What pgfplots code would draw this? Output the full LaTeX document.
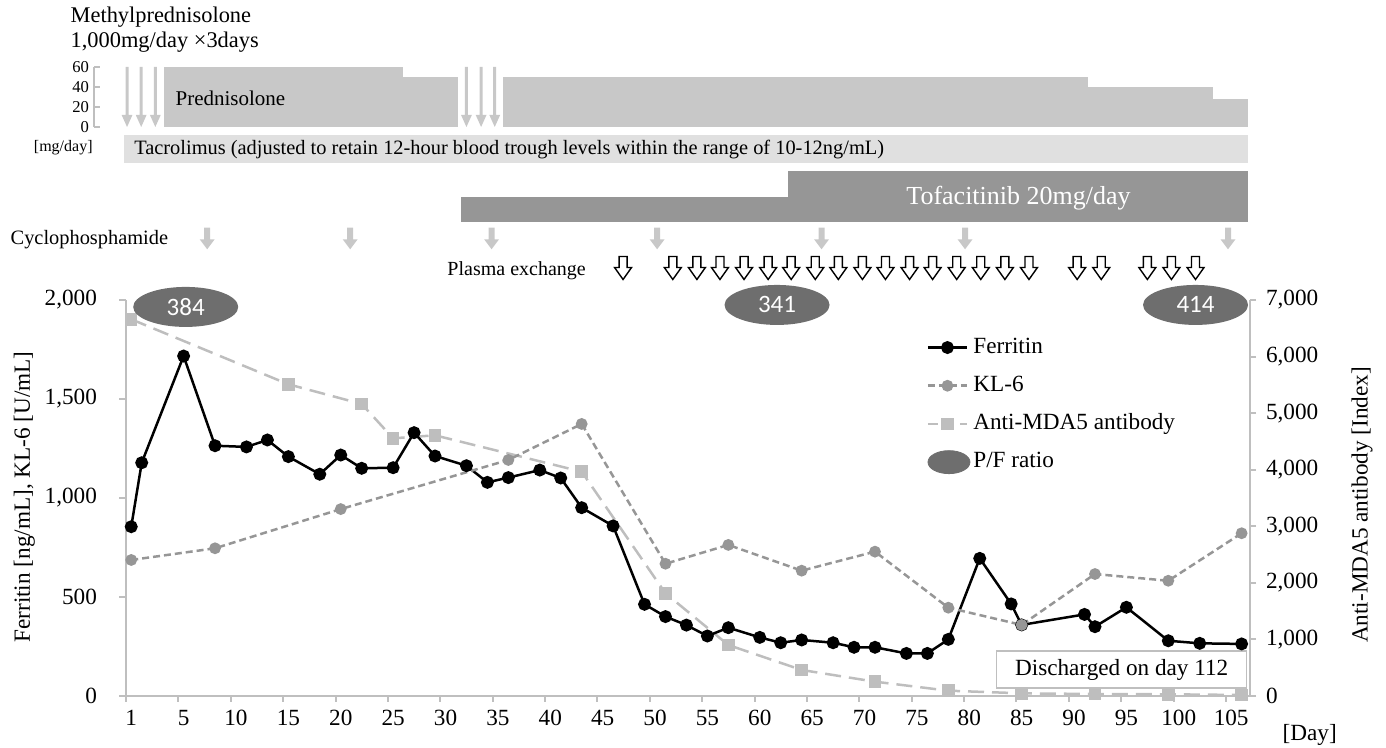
\documentclass[border=0pt]{standalone}
\usepackage{pgfplots}
\pgfplotsset{compat=1.18}
\usepackage{fontspec}
\setmainfont{Liberation Serif}
\newfontfamily\pffont{Carlito}
\usetikzlibrary{shapes.geometric}
\definecolor{axgray}{RGB}{191,191,191}
\definecolor{predgray}{RGB}{200,200,200}
\definecolor{tacgray}{RGB}{224,224,224}
\definecolor{tofgray}{RGB}{150,150,150}
\definecolor{klgray}{RGB}{150,150,150}
\definecolor{mdagray}{RGB}{190,190,190}
\definecolor{pfgray}{RGB}{110,110,110}
\pgfplotsset{/pgf/number format/assume math mode=true}
\pgfdeclareplotmark{pexarrow}{%
 \pgfpathmoveto{\pgfqpoint{-2pt}{5.75pt}}%
 \pgfpathlineto{\pgfqpoint{2pt}{5.75pt}}%
 \pgfpathlineto{\pgfqpoint{2pt}{0.25pt}}%
 \pgfpathlineto{\pgfqpoint{4.25pt}{0.25pt}}%
 \pgfpathlineto{\pgfqpoint{0pt}{-5.75pt}}%
 \pgfpathlineto{\pgfqpoint{-4.25pt}{0.25pt}}%
 \pgfpathlineto{\pgfqpoint{-2pt}{0.25pt}}%
 \pgfpathclose
 \pgfusepathqfillstroke}
\pgfdeclareplotmark{cycarrow}{%
 \pgfpathmoveto{\pgfqpoint{-1.5pt}{5.4pt}}%
 \pgfpathlineto{\pgfqpoint{1.5pt}{5.4pt}}%
 \pgfpathlineto{\pgfqpoint{1.5pt}{-0.4pt}}%
 \pgfpathlineto{\pgfqpoint{3.75pt}{-0.4pt}}%
 \pgfpathlineto{\pgfqpoint{0pt}{-5.4pt}}%
 \pgfpathlineto{\pgfqpoint{-3.75pt}{-0.4pt}}%
 \pgfpathlineto{\pgfqpoint{-1.5pt}{-0.4pt}}%
 \pgfpathclose
 \pgfusepathqfill}
\pgfdeclareplotmark{mparrow}{%
 \pgfpathmoveto{\pgfqpoint{-0.75pt}{15pt}}%
 \pgfpathlineto{\pgfqpoint{0.75pt}{15pt}}%
 \pgfpathlineto{\pgfqpoint{0.75pt}{-9pt}}%
 \pgfpathlineto{\pgfqpoint{2.7pt}{-9pt}}%
 \pgfpathlineto{\pgfqpoint{0pt}{-15pt}}%
 \pgfpathlineto{\pgfqpoint{-2.7pt}{-9pt}}%
 \pgfpathlineto{\pgfqpoint{-0.75pt}{-9pt}}%
 \pgfpathclose
 \pgfusepathqfill}

\pgfplotstableread{
x y
0 855
1 1178
5 1717
8 1264
11 1258
13 1293
15 1209
18 1120
20 1217
22 1150
25 1153
27 1330
29 1212
32 1163
34 1079
36 1103
39 1141
41 1101
43 951
46 859
49 463
51 401
53 358
55 303
57 345
60 296
62 269
64 283
67 269
69 246
71 246
74 215
76 215
78 286
81 695
84 465
85 359
91 412
92 350
95 448
99 279
102 266
106 263
}\ferritin
\pgfplotstableread{
x y
0 687
8 746
20 944
36 1192
43 1374
51 668
57 763
64 633
71 729
78 446
85 359
92 616
99 582
106 822
}\klsix
\pgfplotstableread{
x y
0 6659
15 5510
22 5162
25 4555
29 4608
43 3965
51 1815
57 901
64 460
71 253
78 94
85 47
92 35
99 30
106 18
}\mdafive
\pgfplotstableread{
x y lab
5.2 1965 384
61.65 1975 341
101.6 1975 414
}\pfratio

\begin{document}
\begin{tikzpicture}
\useasboundingbox (0,0) rectangle (693pt,374pt);

% Prednisolone dose axis
\begin{axis}[at={(47pt,310.5pt)}, anchor=south west, scale only axis,
 width=578pt, height=30pt, xmin=-3.53, xmax=106.8, ymin=0, ymax=60,
 axis y line*=left, axis x line=none,
 axis line style={axgray, line width=0.8pt},
 ytick={0,20,40,60}, tick align=inside, major tick length=3pt,
 tick style={axgray, line width=0.8pt},
 yticklabel style={font=\fontsize{8.3}{9}\selectfont, xshift=1pt},
 clip=false]
\addplot[fill=predgray, draw=none] coordinates {(3.15,0) (3.15,60) (25.95,60) (25.95,0)};
\addplot[fill=predgray, draw=none] coordinates {(25.95,0) (25.95,50) (31.2,50) (31.2,0)};
\addplot[fill=predgray, draw=none] coordinates {(35.5,0) (35.5,50) (91.3,50) (91.3,0)};
\addplot[fill=predgray, draw=none] coordinates {(91.3,0) (91.3,40) (103.3,40) (103.3,0)};
\addplot[fill=predgray, draw=none] coordinates {(103.3,0) (103.3,27.5) (106.6,27.5) (106.6,0)};
\end{axis}

% Overlay timeline axis (y = -pixel row)
\begin{axis}[at={(63pt,0pt)}, anchor=south west, scale only axis,
 width=562pt, height=374pt, xmin=-0.5, xmax=106.8, ymin=-748, ymax=0,
 hide axis, clip=false]
\addplot[fill=tacgray, draw=none] coordinates {(-0.67,-135) (-0.67,-163) (106.6,-163) (106.6,-135)};
\addplot[fill=tofgray, draw=none] coordinates {(31.5,-197) (31.5,-222) (62.7,-222) (62.7,-197)};
\addplot[fill=tofgray, draw=none] coordinates {(62.7,-171) (62.7,-222) (106.6,-222) (106.6,-171)};
\addplot[only marks, mark=mparrow, mark options={fill=predgray, draw=none}] coordinates {(-0.4,-97) (0.95,-97) (2.3,-97) (32.0,-97) (33.4,-97) (34.7,-97)};
\addplot[only marks, mark=cycarrow, mark options={fill=predgray, draw=none}] coordinates {(7.25,-238.5) (20.9,-238.5) (34.4,-238.5) (50.2,-238.5) (65.9,-238.5) (79.6,-238.5) (104.7,-238.5)};
\addplot[only marks, mark=pexarrow, mark options={fill=white, draw=black, line width=0.7pt}] coordinates {(46.95,-268) (51.7,-268) (54.0,-268) (56.2,-268) (58.5,-268) (60.8,-268) (63.0,-268) (65.3,-268) (67.5,-268) (69.8,-268) (72.0,-268) (74.3,-268) (76.5,-268) (78.8,-268) (81.1,-268) (83.4,-268) (85.7,-268) (90.3,-268) (92.6,-268) (97.0,-268) (99.3,-268) (101.6,-268)};
\node[anchor=west, inner sep=0pt, font=\fontsize{11.2}{12}\selectfont] at (axis cs:-5.82,-17) {Methylprednisolone};
\node[anchor=west, inner sep=0pt, font=\fontsize{11.2}{12}\selectfont] at (axis cs:-5.82,-42) {1,000mg/day ×3days};
\node[font=\fontsize{8}{9}\selectfont] at (axis cs:-6.49,-148) {[mg/day]};
\node[anchor=west, inner sep=0pt, font=\fontsize{10.5}{12}\selectfont] at (axis cs:4.2,-98) {Prednisolone};
\node[anchor=west, inner sep=0pt, font=\fontsize{10.2}{12}\selectfont] at (axis cs:0.25,-150) {Tacrolimus (adjusted to retain 12-hour blood trough levels within the range of 10-12ng/mL)};
\node[text=white, font=\fontsize{13}{15}\selectfont] at (axis cs:84.7,-198) {Tofacitinib 20mg/day};
\node[anchor=west, inner sep=0pt, font=\fontsize{10.2}{12}\selectfont] at (axis cs:-11.55,-240) {Cyclophosphamide};
\node[anchor=west, inner sep=0pt, font=\fontsize{10}{12}\selectfont] at (axis cs:30.15,-271) {Plasma exchange};
\node[rotate=90, font=\fontsize{11.6}{13}\selectfont] at (axis cs:-10.2,-497) {Ferritin [ng/mL], KL-6 [U/mL]};
\node[rotate=90, font=\fontsize{11.6}{13}\selectfont] at (axis cs:117.5,-505) {Anti-MDA5 antibody [Index]};
\node[font=\fontsize{11.6}{13}\selectfont] at (axis cs:112.5,-735) {[Day]};
\node[draw=axgray, line width=0.8pt, fill=white, minimum width=125pt, minimum height=18.5pt, font=\fontsize{11.6}{13}\selectfont] at (axis cs:94.55,-669.5) {Discharged on day 112};
\end{axis}

% Right axis: anti-MDA5, also carries the x tick marks
\begin{axis}[at={(63pt,26pt)}, anchor=south west, scale only axis,
 width=562pt, height=198pt, xmin=-0.5, xmax=106.8, ymin=0, ymax=7000,
 axis y line*=right, axis x line*=bottom,
 axis line style={axgray, line width=1pt},
 xtick={-0.5,4.5,...,104.5}, xticklabels={,,},
 ytick={0,1000,...,7000}, tick align=outside, major tick length=3pt,
 tick style={axgray, line width=1pt},
 /pgf/number format/1000 sep={,},
 yticklabel style={font=\fontsize{11.6}{13}\selectfont, anchor=west, xshift=1.5pt},
 clip=false]
\addplot[mdagray, line width=1.25pt, dash pattern=on 8pt off 4pt, mark=square*, mark size=2.5pt, mark options={solid, fill=mdagray, draw=none}] table[x=x,y=y] {\mdafive};
\end{axis}

% Main axis
\begin{axis}[at={(63pt,26pt)}, anchor=south west, scale only axis,
 width=562pt, height=198pt, xmin=-0.5, xmax=106.8, ymin=0, ymax=2000,
 axis x line=none, axis y line*=left,
 axis line style={axgray, line width=1pt},
 ytick={0,500,1000,1500,2000},
 tick align=outside, major tick length=3.5pt,
 tick style={axgray, line width=1pt},
 /pgf/number format/1000 sep={,},
 yticklabel style={font=\fontsize{11.6}{13}\selectfont, anchor=east, xshift=-7.5pt},
 clip=false,
 legend image code/.code={\draw[mark repeat=2,mark phase=2,#1] plot coordinates {(0pt,0pt) (9.75pt,0pt) (19.5pt,0pt)};},
 legend style={at={(axis cs:75.9,1825)}, anchor=north west, draw=none, fill=none,
   inner sep=0pt, row sep=6.6pt, column sep=0.5pt,
   nodes={inner sep=1pt, text height=8pt, text depth=2.5pt},
   font=\fontsize{11.6}{13}\selectfont},
 legend cell align=left]
\addplot[black, line width=1.25pt, mark=*, mark size=2.6pt] table[x=x,y=y] {\ferritin};
\addlegendentry{Ferritin}
\addplot[klgray, line width=1.25pt, dash pattern=on 3.5pt off 2pt, mark=*, mark size=2.3pt, mark options={solid, fill=klgray, draw=none}] table[x=x,y=y] {\klsix};
\addlegendentry{KL-6}
\addlegendimage{mdagray, line width=1.25pt, dash pattern=on 5pt off 3pt, mark=square*, mark size=2.5pt, mark options={solid, fill=mdagray, draw=none}}
\addlegendentry{Anti-MDA5 antibody}
\addlegendimage{legend image code/.code={\fill[pfgray] (10.5pt,0pt) ellipse (10.5pt and 5.75pt);}}
\addlegendentry{P/F ratio}
\addplot[forget plot, draw=none, mark=none, nodes near coords, point meta=explicit symbolic,
 every node near coord/.append style={ellipse, fill=pfgray, text=white, minimum width=52.5pt, minimum height=20pt, inner sep=0pt, anchor=center, font=\pffont\fontsize{12.5}{14}\selectfont}]
 table[x=x,y=y,meta=lab] {\pfratio};
\end{axis}

% x tick labels, placed at category centres
\begin{axis}[at={(63pt,26pt)}, anchor=south west, scale only axis,
 width=562pt, height=198pt, xmin=-0.5, xmax=106.8, ymin=0, ymax=2000,
 axis x line*=bottom, axis y line=none,
 axis line style={draw=none},
 ytick=\empty,
 xtick={0,5,...,105},
 xticklabels={1,5,10,15,20,25,30,35,40,45,50,55,60,65,70,75,80,85,90,95,100,105},
 major tick length=0pt, tick style={draw=none},
 xticklabel style={font=\fontsize{11.6}{13}\selectfont, yshift=-3.5pt}]
\end{axis}
\end{tikzpicture}
\end{document}
